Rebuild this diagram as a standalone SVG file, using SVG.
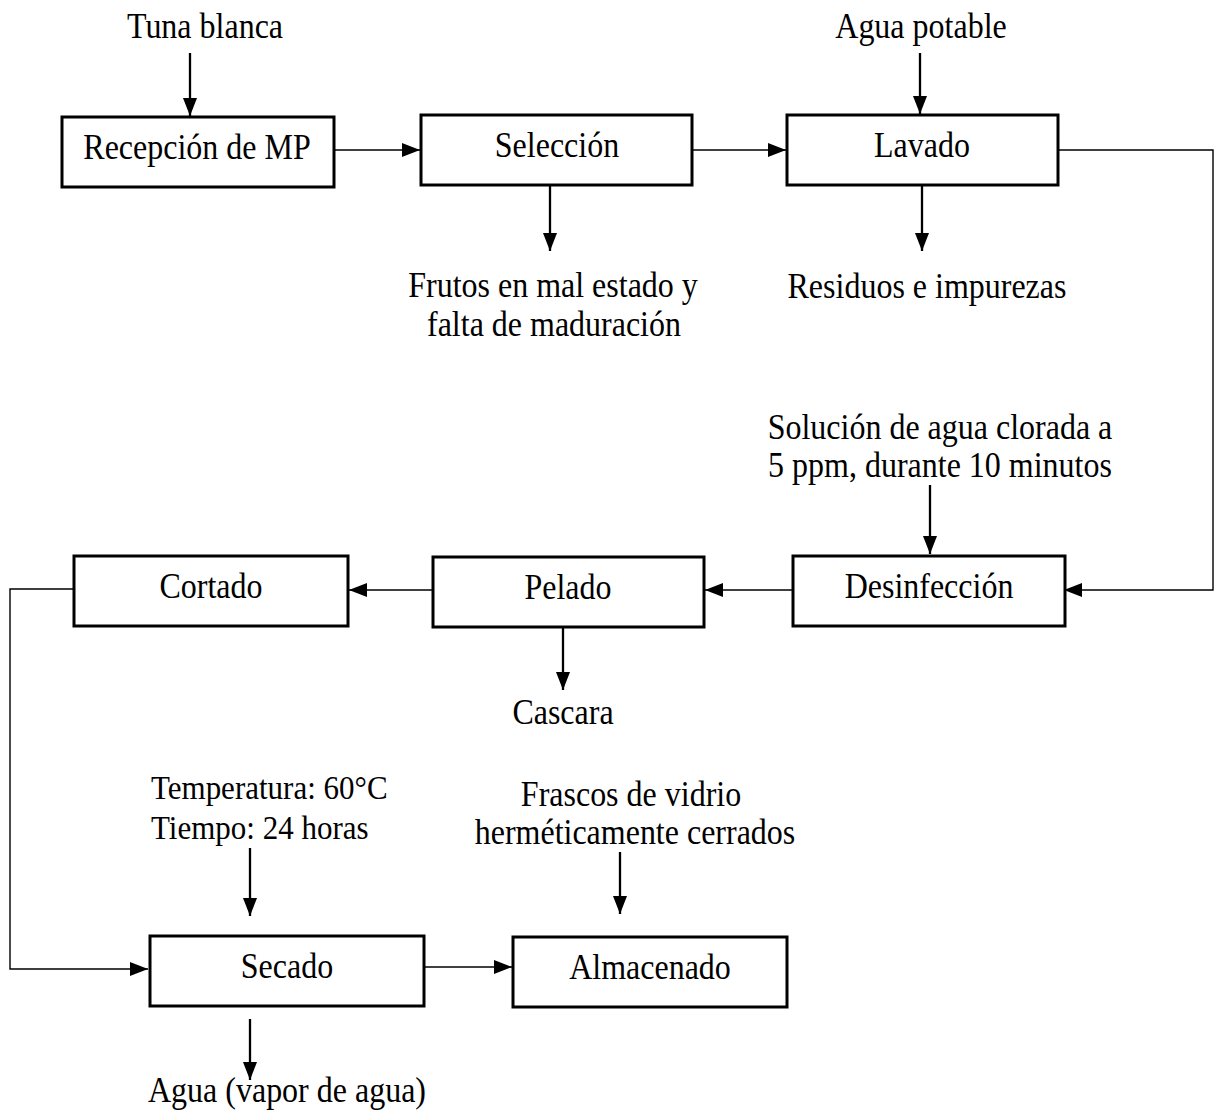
<svg xmlns="http://www.w3.org/2000/svg" width="1217" height="1116" viewBox="0 0 1217 1116">
<style>
.box{fill:#fff;stroke:#000;stroke-width:3}
text{font-family:"Liberation Serif","Times New Roman",serif;font-size:32px;fill:#000}
.t{text-anchor:middle}
.tl{text-anchor:start}
.c{fill:none;stroke:#000;stroke-width:1.4}
.v{fill:none;stroke:#000;stroke-width:2.3}
</style>
<defs>
<marker id="ah" markerWidth="18" markerHeight="14" refX="18" refY="7" orient="auto" markerUnits="userSpaceOnUse">
<path d="M0,0 L18,7 L0,14 Z" fill="#000"/>
</marker>
</defs>
<rect width="1217" height="1116" fill="#fff"/>
<g id="connectors">
<line class="v" x1="190" y1="53" x2="190" y2="116" marker-end="url(#ah)"/>
<line class="c" x1="334" y1="150" x2="420" y2="150" marker-end="url(#ah)"/>
<line class="c" x1="692" y1="150" x2="786" y2="150" marker-end="url(#ah)"/>
<line class="v" x1="920" y1="53" x2="920" y2="114" marker-end="url(#ah)"/>
<line class="v" x1="550" y1="185" x2="550" y2="251" marker-end="url(#ah)"/>
<line class="v" x1="922" y1="185" x2="922" y2="251" marker-end="url(#ah)"/>
<polyline class="c" points="1058,150 1213,150 1213,590 1064,590" marker-end="url(#ah)"/>
<line class="v" x1="930" y1="485" x2="930" y2="554" marker-end="url(#ah)"/>
<line class="c" x1="792" y1="590" x2="705" y2="590" marker-end="url(#ah)"/>
<line class="c" x1="432" y1="590" x2="349" y2="590" marker-end="url(#ah)"/>
<line class="v" x1="563" y1="628" x2="563" y2="690" marker-end="url(#ah)"/>
<polyline class="c" points="74,589 10,589 10,969 148,969" marker-end="url(#ah)"/>
<line class="v" x1="250" y1="848" x2="250" y2="916" marker-end="url(#ah)"/>
<line class="v" x1="620" y1="852" x2="620" y2="914" marker-end="url(#ah)"/>
<line class="c" x1="425" y1="967" x2="512" y2="967" marker-end="url(#ah)"/>
<line class="v" x1="250" y1="1019" x2="250" y2="1080" marker-end="url(#ah)"/>
</g>
<g id="n-tuna"><text class="t" transform="translate(205 38) scale(1 1.1)">Tuna blanca</text></g>
<g id="n-agua-potable"><text class="t" transform="translate(921 38) scale(1 1.1)">Agua potable</text></g>
<g id="n-recepcion"><rect class="box" x="62" y="117" width="272" height="70"/><text class="t" transform="translate(197 159) scale(1 1.1)">Recepción de MP</text></g>
<g id="n-seleccion"><rect class="box" x="421" y="115" width="271" height="70"/><text class="t" transform="translate(557 157) scale(1 1.1)">Selección</text></g>
<g id="n-lavado"><rect class="box" x="787" y="115" width="271" height="70"/><text class="t" transform="translate(922 157) scale(1 1.1)">Lavado</text></g>
<g id="n-frutos"><text class="t" transform="translate(553 297) scale(1 1.1)">Frutos en mal estado y</text><text class="t" transform="translate(554 336) scale(1 1.1)">falta de maduración</text></g>
<g id="n-residuos"><text class="t" transform="translate(927 298) scale(1 1.1)">Residuos e impurezas</text></g>
<g id="n-solucion"><text class="t" transform="translate(940 439) scale(1 1.1)">Solución de agua clorada a</text><text class="t" transform="translate(940 477) scale(1 1.1)">5 ppm, durante 10 minutos</text></g>
<g id="n-desinfeccion"><rect class="box" x="793" y="556" width="272" height="70"/><text class="t" transform="translate(929 598) scale(1 1.1)">Desinfección</text></g>
<g id="n-pelado"><rect class="box" x="433" y="557" width="271" height="70"/><text class="t" transform="translate(568 599) scale(1 1.1)">Pelado</text></g>
<g id="n-cortado"><rect class="box" x="74" y="556" width="274" height="70"/><text class="t" transform="translate(211 598) scale(1 1.1)">Cortado</text></g>
<g id="n-cascara"><text class="t" transform="translate(563 724) scale(1 1.1)">Cascara</text></g>
<g id="n-temp"><text class="tl" transform="translate(151 799) scale(1 1.1)" style="font-size:31px">Temperatura: 60°C</text><text class="tl" transform="translate(151 839) scale(1 1.1)" style="font-size:31px">Tiempo: 24 horas</text></g>
<g id="n-frascos"><text class="t" transform="translate(631 806) scale(1 1.1)">Frascos de vidrio</text><text class="t" transform="translate(635 844) scale(1 1.1)">herméticamente cerrados</text></g>
<g id="n-secado"><rect class="box" x="150" y="936" width="274" height="70"/><text class="t" transform="translate(287 978) scale(1 1.1)">Secado</text></g>
<g id="n-almacenado"><rect class="box" x="513" y="937" width="274" height="70"/><text class="t" transform="translate(650 979) scale(1 1.1)">Almacenado</text></g>
<g id="n-agua-vapor"><text class="tl" transform="translate(148 1102) scale(1 1.1)">Agua (vapor de agua)</text></g>
</svg>
